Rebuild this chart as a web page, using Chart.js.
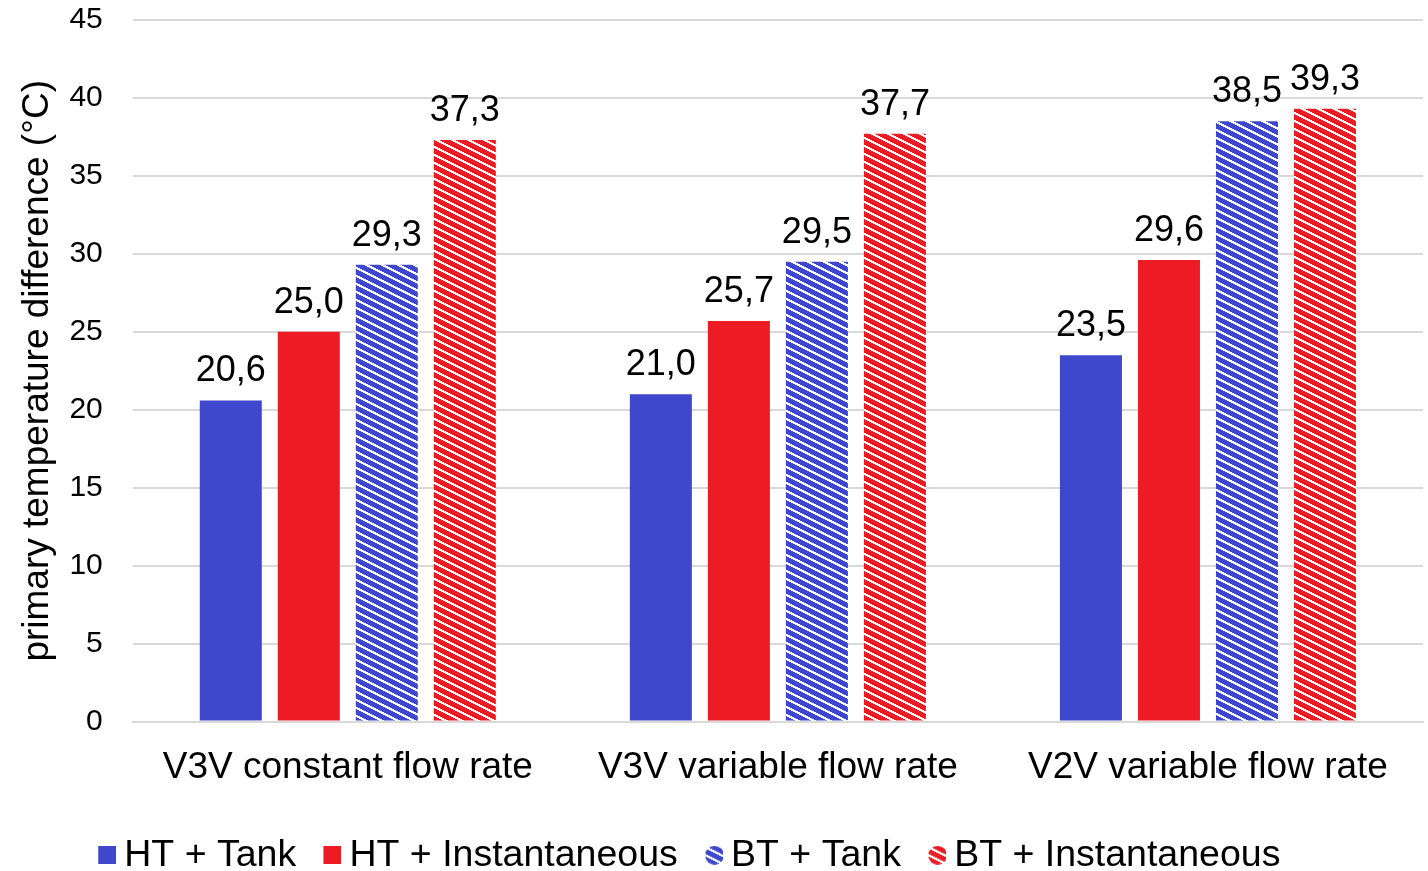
<!DOCTYPE html>
<html>
<head>
<meta charset="utf-8">
<script src="https://cdn.jsdelivr.net/npm/chart.js@4"></script>
<style>
  html, body { margin: 0; padding: 0; background: #ffffff; }
  #wrap { width: 1428px; height: 871px; }
</style>
</head>
<body>
<div id="wrap"><canvas id="c" width="1428" height="871"></canvas></div>
<script>
// ---- data ----
const categories = ["V3V constant flow rate", "V3V variable flow rate", "V2V variable flow rate"];
const seriesNames = ["HT + Tank", "HT + Instantaneous", "BT + Tank", "BT + Instantaneous"];
const htTank = [20.6, 21.0, 23.5];
const htInstant = [25.0, 25.7, 29.6];
const btTank = [29.3, 29.5, 38.5];
const btInstant = [37.3, 37.7, 39.3];
const yTicks = [0, 5, 10, 15, 20, 25, 30, 35, 40, 45];

// ---- styles ----
const BLUE = '#3F48CC';
const RED = '#ED1C24';
const FONT = '"Liberation Sans", Arial, sans-serif';

function hatchTile(color) {
  const w = 16, h = 8, c = document.createElement('canvas');
  c.width = w; c.height = h;
  const g = c.getContext('2d');
  g.fillStyle = '#ffffff'; g.fillRect(0, 0, w, h);
  g.fillStyle = color;
  for (let y = 0; y < h; y++) for (let x = 0; x < w; x++) {
    if ((((x - 2 * y) % w) + w) % w < 11) g.fillRect(x, y, 1, 1);
  }
  return c;
}
const ctx = document.getElementById('c').getContext('2d');
const blueHatch = ctx.createPattern(hatchTile(BLUE), 'repeat');
const redHatch = ctx.createPattern(hatchTile(RED), 'repeat');

// legend markers: canvas 33 wide, 18x18 marker drawn at its right part
function squareMarker(color) {
  const c = document.createElement('canvas'); c.width = 33; c.height = 18;
  const g = c.getContext('2d'); g.fillStyle = color; g.fillRect(15, 0, 18, 18);
  return c;
}
function circleMarker(color) {
  const c = document.createElement('canvas'); c.width = 33; c.height = 19;
  const g = c.getContext('2d');
  g.fillStyle = g.createPattern(hatchTile(color), 'repeat');
  g.beginPath(); g.arc(24.5, 9.5, 9.5, 0, Math.PI * 2); g.fill();
  return c;
}
const markers = [squareMarker(BLUE), squareMarker(RED), circleMarker(BLUE), circleMarker(RED)];

const dataLabels = {
  id: 'dataLabels',
  afterDatasetsDraw(chart) {
    const g = chart.ctx;
    g.save();
    g.font = '36px ' + FONT;
    g.fillStyle = '#000000';
    g.textAlign = 'center';
    g.textBaseline = 'alphabetic';
    chart.data.datasets.forEach((ds, i) => {
      chart.getDatasetMeta(i).data.forEach((el, j) => {
        const v = ds.data[j];
        g.fillText(v.toFixed(1).replace('.', ','), el.x, el.y - 19);
      });
    });
    g.restore();
  }
};

const legendShift = {
  id: 'legendShift',
  afterLayout(chart) {
    const lg = chart.legend;
    if (lg) { lg.left = 71; }
  }
};

new Chart(ctx, {
  type: 'bar',
  data: {
    labels: categories,
    datasets: [
      { label: seriesNames[0], data: htTank, backgroundColor: BLUE },
      { label: seriesNames[1], data: htInstant, backgroundColor: RED },
      { label: seriesNames[2], data: btTank, backgroundColor: blueHatch },
      { label: seriesNames[3], data: btInstant, backgroundColor: redHatch }
    ]
  },
  options: {
    responsive: false,
    animation: false,
    devicePixelRatio: 1,
    datasets: { bar: { categoryPercentage: 0.7256, barPercentage: 0.795 } },
    layout: { padding: { top: 20, right: 5, left: 0, bottom: -13 } },
    scales: {
      x: {
        grid: { display: false, drawTicks: false },
        border: { display: true, color: '#d9d9d9', width: 2 },
        ticks: { color: '#000000', font: { family: FONT, size: 37 }, padding: 24 },
        afterFit(scale) { scale.height -= 0.5; }
      },
      y: {
        min: 0, max: 45,
        afterBuildTicks(axis) { axis.ticks = yTicks.map(v => ({ value: v })); },
        afterFit(scale) { scale.paddingTop = 0; scale.paddingBottom = 0; },
        grid: { color: '#d9d9d9', lineWidth: 2, drawTicks: false },
        border: { display: false },
        ticks: { color: '#000000', font: { family: FONT, size: 30 }, padding: 30 },
        title: {
          display: true,
          text: 'primary temperature difference (°C)',
          color: '#000000',
          font: { family: FONT, size: 37 },
          padding: { top: 16, bottom: -21 }
        }
      }
    },
    plugins: {
      tooltip: { enabled: false },
      legend: {
        position: 'bottom',
        align: 'start',
        labels: {
          color: '#000000',
          font: { family: FONT, size: 37.5 },
          usePointStyle: true,
          boxWidth: 11.5,
          boxHeight: 18,
          padding: 23,
          generateLabels(chart) {
            return chart.data.datasets.map((ds, i) => ({
              text: ds.label,
              pointStyle: markers[i],
              fillStyle: ds.backgroundColor,
              strokeStyle: 'transparent',
              lineWidth: 0,
              hidden: false,
              datasetIndex: i,
              fontColor: '#000000'
            }));
          }
        }
      }
    }
  },
  plugins: [dataLabels, legendShift]
});
</script>
</body>
</html>
